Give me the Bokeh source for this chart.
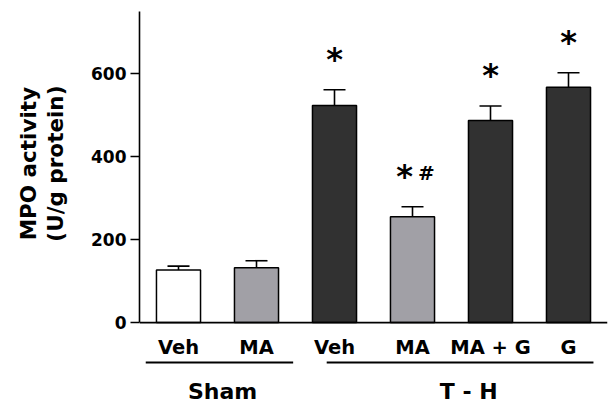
import math
from bokeh.plotting import figure
from bokeh.layouts import row
from bokeh.models import (Range1d, Span, Whisker, TeeHead, ColumnDataSource,
                          FixedTicker)
from bokeh.core.properties import value
from bokeh.embed import file_html
from bokeh.resources import INLINE

# ---- data ----
conditions = ["Veh", "MA", "Veh", "MA", "MA + G", "G"]
groups = ["Sham", "T - H"]
group_sizes = [2, 4]
mpo_mean = [127, 132, 523, 255, 487, 567]
mpo_sem = [9, 17, 38, 24, 35, 35]
star_marks = ["", "", "*", "*", "*", "*"]
hash_marks = ["", "", "", "#", "", ""]
y_ticks = [0, 200, 400, 600]
y_title_lines = ["MPO activity", "(U/g protein)"]

WHITE, GREY, DARK = "#ffffff", "#a1a0a6", "#313131"
bar_colors = [WHITE, GREY, DARK, GREY, DARK, DARK]
FONT = "DejaVu Sans"

# ---- layout ----
W, H = 608, 404
TW = 80                          # width of the y-title strip
ML, MR, MT, MB = 139 - TW, 1, 10, 0
frame_h = H - MT - MB
y_top = 752.0
ppu = 0.415                      # screen px per data unit
y_bot = y_top - frame_h / ppu

def px(p):                        # screen px -> data units
    return p / ppu

n = len(conditions)
xs = [i + 0.5 for i in range(n)]
upper = [m + s for m, s in zip(mpo_mean, mpo_sem)]

# ---- y title strip ----
t = figure(width=TW, height=H, x_range=Range1d(0, TW), y_range=Range1d(y_bot, y_top),
           output_backend="svg", toolbar_location=None, x_axis_location=None,
           y_axis_location=None, min_border_left=0, min_border_right=0,
           min_border_top=MT, min_border_bottom=MB)
t.outline_line_color = None
t.grid.visible = False
t.text(x=[28, 55], y=[px(322 - 163)] * 2, text=y_title_lines, angle=math.pi / 2,
       text_align="center", text_baseline="middle", text_font=value(FONT),
       text_font_style="bold", text_font_size="21.5px", text_color="black")

# ---- main chart ----
p = figure(width=W - TW, height=H, x_range=Range1d(0, n), y_range=Range1d(y_bot, y_top),
           output_backend="svg", toolbar_location=None, x_axis_location=None,
           min_border_left=ML, min_border_right=MR, min_border_top=MT,
           min_border_bottom=MB)
p.outline_line_color = None
p.grid.visible = False
p.background_fill_color = "white"
p.border_fill_color = "white"

ax = p.yaxis[0]
ax.bounds = (0, 750)
ax.ticker = FixedTicker(ticks=y_ticks)
ax.major_tick_in = 0
ax.major_tick_out = 9
ax.minor_tick_line_color = None
ax.axis_line_width = 1.6
ax.major_tick_line_width = 1.6
ax.major_label_text_font = FONT
ax.major_label_text_font_style = "bold"
ax.major_label_text_font_size = "17px"
ax.major_label_text_color = "black"
ax.major_label_standoff = 4

src = ColumnDataSource(dict(x=xs, top=mpo_mean, upper=upper, color=bar_colors,
                            star=star_marks, hash=hash_marks,
                            star_dx=[-8 if h else 0 for h in hash_marks]))

p.vbar(x="x", top="top", bottom=0, width=0.565, source=src, fill_color="color",
       line_color="black", line_width=1.5)

p.add_layout(Whisker(source=src, base="x", upper="upper", lower="top",
                     upper_head=TeeHead(size=22, line_width=1.6, line_color="black"),
                     lower_head=None, line_width=1.6, line_color="black"))

p.add_layout(Span(location=0, dimension="width", line_color="black", line_width=1.6))

# significance marks
p.text(x="x", y="upper", text="star", source=src, x_offset="star_dx",
       y_offset=-31, text_align="center", text_baseline="middle",
       text_font=value(FONT), text_font_style="bold", text_font_size="32px",
       text_color="black")
p.text(x="x", y="upper", text="hash", source=src, x_offset=14,
       y_offset=-34, text_align="center", text_baseline="middle",
       text_font=value(FONT), text_font_style="bold", text_font_size="20px",
       text_color="black")

# category labels
p.text(x=xs, y=[-px(25)] * n, text=conditions, text_align="center",
       text_baseline="middle", text_font=value(FONT), text_font_style="bold",
       text_font_size="19.5px", text_color="black")

# group lines and labels
starts = [sum(group_sizes[:i]) for i in range(len(groups))]
ends = [s + g for s, g in zip(starts, group_sizes)]
inset_l = [0.08, 0.40]
inset_r = [0.03, 0.18]
lx0 = [s + a for s, a in zip(starts, inset_l)]
lx1 = [e - b for e, b in zip(ends, inset_r)]
ly = [-px(40)] * len(groups)
p.segment(x0=lx0, y0=ly, x1=lx1, y1=ly, line_color="black", line_width=2)
gx = [(a + b) / 2 + d for a, b, d in zip(lx0, lx1, [0.04, 0.11])]
p.text(x=gx, y=[-px(69)] * len(groups), text=groups, text_align="center",
       text_baseline="middle", text_font=value(FONT), text_font_style="bold",
       text_font_size="22px", text_color="black")

layout = row(t, p, spacing=0)
open("out.html", "w").write(file_html(layout, INLINE))
